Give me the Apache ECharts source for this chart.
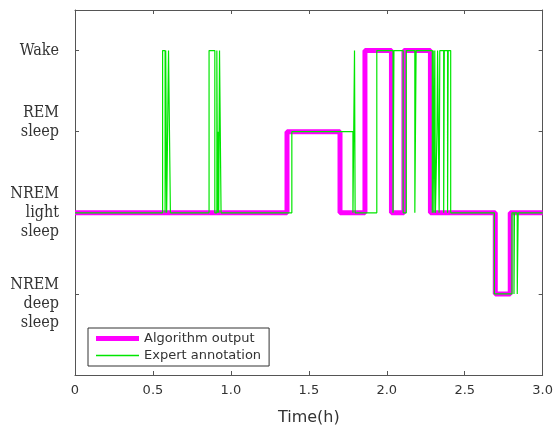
<!DOCTYPE html>
<html>
<head>
<meta charset="UTF-8">
<title>sleep stages</title>
<script src="https://cdn.jsdelivr.net/npm/echarts@6/dist/echarts.min.js"></script>
<style>
	html, body { margin: 0; padding: 0; background: #fff; }
	#chart { width: 556px; height: 431px; }
</style>
</head>
<body>
<div id="chart"></div>
<script type="text/javascript">
// stage levels: 1 deep, 2 light, 3 REM, 4 wake
var stageLevels = [1, 2, 3, 4];
var stageNames = ['\nNREM\ndeep\nsleep', 'NREM\nlight\nsleep', 'REM\nsleep\n', 'Wake'];
var xTicks = [0, 0.5, 1.0, 1.5, 2.0, 2.5, 3.0];

// algorithm output: change times (h) and stage held from that time
var algoTimes  = [0, 1.36, 1.70, 1.86, 2.03, 2.11, 2.28, 2.696, 2.792, 3.0];
var algoStages = [2, 3,    2,    4,    2,    4,    2,    1,     2,     2];

// expert annotation
var exptTimes = [0, 0.562, 0.578, 0.582, 0.588, 0.600, 0.612,
	0.860, 0.897, 0.910, 0.914, 0.918, 0.922, 0.927, 0.937,
	1.391, 1.783, 1.793, 1.797,
	1.936, 2.040, 2.046, 2.105, 2.125, 2.180, 2.188,
	2.292, 2.298, 2.302, 2.308, 2.312, 2.322, 2.326, 2.336, 2.340, 2.365, 2.369, 2.390, 2.394, 2.410,
	2.690, 2.803, 2.816, 2.819, 2.837, 2.843, 3.0];
var exptStages = [2, 4, 2, 4, 2, 4, 2,
	4, 2, 4, 2, 3, 2, 4, 2,
	3, 2, 4, 2,
	4, 2, 4, 2, 4, 2, 4,
	2, 4, 2, 4, 2, 3, 4, 2, 4, 2, 4, 2, 4, 2,
	1, 2, 1, 2, 1, 2, 2];

function pairs(ts, vs) {
	var out = [];
	for (var i = 0; i < ts.length; i++) {
		out.push([ts[i], vs[i]]);
	}
	return out;
}

var axisColor = '#555';
var tick = { inside: true, length: 4, lineStyle: { color: axisColor } };
var line = { show: true, onZero: false, lineStyle: { color: axisColor } };

var myChart = echarts.init(document.getElementById('chart'));
var option = {
	animation: false,
	grid: { left: 75, right: 10, top: 10, bottom: 50 },
	legend: {
		orient: 'vertical',
		left: 88,
		top: 328,
		padding: [4, 8, 4, 8],
		itemGap: 4,
		itemWidth: 43,
		itemHeight: 14,
		symbolKeepAspect: true,
		borderColor: '#333',
		borderWidth: 1,
		backgroundColor: '#fff',
		textStyle: { fontFamily: 'DejaVu Sans', fontSize: 13, color: '#333' },
		data: [
			{ name: 'Algorithm output', icon: 'path://M0,0h43v5h-43z' },
			{ name: 'Expert annotation', icon: 'path://M0,0h43v1.3h-43z' }
		]
	},
	xAxis: [{
		type: 'value',
		min: xTicks[0],
		max: xTicks[xTicks.length - 1],
		interval: 0.5,
		name: 'Time(h)',
		nameLocation: 'middle',
		nameGap: 35,
		nameTextStyle: { fontFamily: 'DejaVu Sans', fontSize: 16, color: '#333' },
		axisLine: line,
		axisTick: tick,
		axisLabel: {
			margin: 9,
			fontFamily: 'DejaVu Sans',
			fontSize: 13,
			color: '#333',
			formatter: function(v) { return v === 0 ? '0' : v.toFixed(1); }
		},
		splitLine: { show: false }
	}, {
		type: 'value',
		position: 'top',
		min: xTicks[0],
		max: xTicks[xTicks.length - 1],
		interval: 0.5,
		axisLine: line,
		axisTick: tick,
		axisLabel: { show: false },
		splitLine: { show: false }
	}],
	yAxis: [{
		type: 'value',
		min: 0,
		max: 4.5,
		interval: 1,
		axisLine: line,
		axisTick: tick,
		axisLabel: {
			margin: 16,
			fontFamily: 'DejaVu Serif',
			fontStyle: 'condensed',
			fontSize: 16,
			lineHeight: 19,
			color: '#333',
			align: 'right',
			formatter: function(v) {
				var k = stageLevels.indexOf(v);
				return k < 0 ? '' : stageNames[k];
			}
		},
		splitLine: { show: false }
	}, {
		type: 'value',
		position: 'right',
		min: 0,
		max: 4.5,
		interval: 1,
		axisLine: line,
		axisTick: tick,
		axisLabel: { show: false },
		splitLine: { show: false }
	}],
	series: [{
		name: 'Algorithm output',
		type: 'line',
		step: 'end',
		symbol: 'none',
		color: '#ff00ff',
		lineStyle: { color: '#ff00ff', width: 5 },
		data: pairs(algoTimes, algoStages)
	}, {
		name: 'Expert annotation',
		type: 'line',
		step: 'end',
		symbol: 'none',
		color: '#00e600',
		lineStyle: { color: '#00e600', width: 1.2 },
		data: pairs(exptTimes, exptStages)
	}]
};
myChart.setOption(option);
</script>
</body>
</html>
